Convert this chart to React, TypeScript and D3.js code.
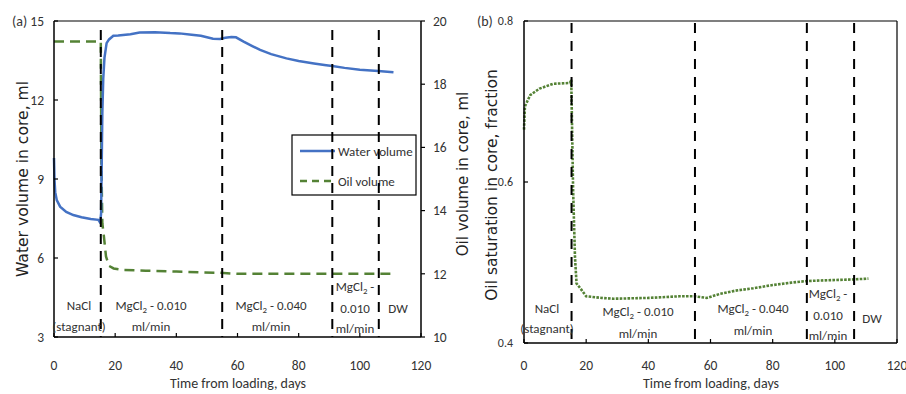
import React from 'react';
import * as d3 from 'd3';

// ---------- data ----------
const stageDays = [15.3, 55, 91, 106.2];
const xTicks = [0, 20, 40, 60, 80, 100, 120];
const waterTicks = [3, 6, 9, 12, 15];
const oilTicks = [10, 12, 14, 16, 18, 20];
const satTicks = [0.4, 0.6, 0.8];

const waterDays = [0, 0.15, 0.4, 0.9, 2, 4, 6.3, 9, 12, 14.5, 14.9, 15.2, 15.4, 15.6, 15.8, 16.1, 16.5, 17.2, 18, 19.4, 21, 25, 28, 33, 38, 41, 45, 48, 52, 54.3, 56, 58, 59.5, 62, 65, 67.4, 71, 76, 80, 85, 89, 91, 95, 100, 106, 111];
const waterVol = [9.8, 9.0, 8.5, 8.2, 7.95, 7.75, 7.63, 7.55, 7.48, 7.45, 7.38, 7.45, 7.7, 9.5, 11.5, 12.8, 13.6, 14.16, 14.3, 14.44, 14.45, 14.5, 14.56, 14.57, 14.54, 14.53, 14.48, 14.44, 14.33, 14.32, 14.36, 14.39, 14.38, 14.22, 14.04, 13.9, 13.74, 13.58, 13.48, 13.39, 13.32, 13.29, 13.22, 13.15, 13.1, 13.05];

const oilDays = [0, 15.3, 15.5, 15.8, 16.3, 17.0, 18, 19.5, 23, 30, 40, 54.3, 60, 110];
const oilVol = [19.35, 19.35, 15.5, 13.6, 13.2, 12.55, 12.25, 12.17, 12.12, 12.1, 12.07, 12.03, 12.0, 12.0];

const satDays = [0, 0.3, 2, 5, 9.4, 14.8, 15.2, 15.5, 15.8, 16.4, 16.9, 18.5, 20, 25, 28.7, 40, 50, 55, 58.8, 63, 68, 73.8, 80, 86, 91, 98, 106, 110.8];
const satVal = [0.665, 0.694, 0.708, 0.716, 0.722, 0.723, 0.727, 0.66, 0.59, 0.507, 0.474, 0.466, 0.458, 0.456, 0.455, 0.456, 0.458, 0.458, 0.456, 0.461, 0.465, 0.468, 0.472, 0.475, 0.477, 0.478, 0.479, 0.48];

const legendLabels = ['Water volume', 'Oil volume'];

// ---------- style ----------
const FONT = "Carlito, 'Liberation Sans Narrow', 'Arial Narrow', sans-serif";
const TFONT = "'DejaVu Sans', Verdana, sans-serif";
const BLUE = '#4472C4';
const GREEN = '#548235';

const xA = d3.scaleLinear().domain([0, 120]).range([54, 421]);
const yW = d3.scaleLinear().domain([3, 15]).range([337, 21]);
const yO = d3.scaleLinear().domain([10, 20]).range([337, 21]);
const xB = d3.scaleLinear().domain([0, 120]).range([524, 897]);
const yS = d3.scaleLinear().domain([0.4, 0.8]).range([343, 21]);

const waterPts: [number, number][] = waterDays.map((d, i) => [d, waterVol[i]]);
const oilPts: [number, number][] = oilDays.map((d, i) => [d, oilVol[i]]);
const satPts: [number, number][] = satDays.map((d, i) => [d, satVal[i]]);

const waterLine = d3.line<[number, number]>().x(d => xA(d[0])).y(d => yW(d[1]));
const oilLine = d3.line<[number, number]>().x(d => xA(d[0])).y(d => yO(d[1]));
const satLine = d3.line<[number, number]>().x(d => xB(d[0])).y(d => yS(d[1]));

function Mg({ x, y, rest, size = 13 }: { x: number; y: number; rest: string; size?: number }) {
  return (
    <text x={x} y={y} textAnchor="middle" fontFamily={FONT} fontSize={size} fill="#333">
      <tspan>MgCl</tspan>
      <tspan fontSize={size * 0.68} dy={3}>2</tspan>
      <tspan dy={-3}>{rest}</tspan>
    </text>
  );
}

function T({ x, y, s, size = 13 }: { x: number; y: number; s: string; size?: number }) {
  return (
    <text x={x} y={y} textAnchor="middle" fontFamily={FONT} fontSize={size} fill="#333">{s}</text>
  );
}

export default function App() {
  return (
    <svg width={906} height={394} style={{ position: 'absolute', left: 0, top: 0, background: '#fff' }}>
      <rect x={0} y={0} width={906} height={394} fill="#fff" />
      {/* ================= Panel (a) ================= */}
      <g>
        {/* legend (behind dashed lines) */}
        <rect x={292} y={135} width={124} height={60} fill="none" stroke="#000" strokeWidth={1.2} />
        <line x1={300} x2={335} y1={151} y2={151} stroke={BLUE} strokeWidth={2.5} />
        <text x={338} y={155.5} fontFamily={FONT} fontSize={13} fill="#333">{legendLabels[0]}</text>
        <line x1={300} x2={335} y1={181} y2={181} stroke={GREEN} strokeWidth={2.5} strokeDasharray="7,5" />
        <text x={338} y={185.5} fontFamily={FONT} fontSize={13} fill="#333">{legendLabels[1]}</text>

        {/* data */}
        <path d={oilLine(oilPts) || ''} fill="none" stroke={GREEN} strokeWidth={2.5} strokeDasharray="10,6" />
        <path d={waterLine(waterPts) || ''} fill="none" stroke={BLUE} strokeWidth={2.5} />

        {/* stage lines */}
        {stageDays.map((d, i) => (
          <line key={i} x1={xA(d)} x2={xA(d)} y1={30} y2={337} stroke="#000" strokeWidth={2} strokeDasharray="10,7" />
        ))}

        {/* frame */}
        <line x1={54} x2={421} y1={21} y2={21} stroke="#000" strokeWidth={1.2} />
        <line x1={54} x2={54} y1={21} y2={337} stroke="#000" strokeWidth={1.5} />
        <line x1={421} x2={421} y1={21} y2={337} stroke="#000" strokeWidth={1.5} />
        <line x1={54} x2={421} y1={337} y2={337} stroke="#000" strokeWidth={1.5} />

        {/* x ticks */}
        {xTicks.map(t => (
          <g key={t}>
            <line x1={xA(t)} x2={xA(t)} y1={337} y2={333} stroke="#000" strokeWidth={1.2} />
            <text x={xA(t)} y={369.5} textAnchor="middle" fontFamily={FONT} fontSize={13.5} fill="#333">{t}</text>
          </g>
        ))}
        {/* left ticks */}
        {waterTicks.map(t => (
          <g key={t}>
            <line x1={54} x2={58} y1={yW(t)} y2={yW(t)} stroke="#000" strokeWidth={1.2} />
            <text x={44} y={yW(t) + 4.8} textAnchor="end" fontFamily={FONT} fontSize={13.5} fill="#333">{t}</text>
          </g>
        ))}
        {/* right ticks */}
        {oilTicks.map(t => (
          <g key={t}>
            <line x1={421} x2={425} y1={yO(t)} y2={yO(t)} stroke="#000" strokeWidth={1.2} />
            <text x={433} y={yO(t) + 4.8} textAnchor="start" fontFamily={FONT} fontSize={13.5} fill="#333">{t}</text>
          </g>
        ))}

        <text x={12} y={26} fontFamily={FONT} fontSize={14} fill="#333">(a)</text>

        {/* titles */}
        <text x={238} y={388} textAnchor="middle" fontFamily={FONT} fontSize={14} fill="#333">Time from loading, days</text>
        <text transform="translate(28,179) rotate(-90)" textAnchor="middle" fontFamily={TFONT} fontSize={15.6} fill="#222">Water volume in core, ml</text>
        <text transform="translate(468,174) rotate(-90)" textAnchor="middle" fontFamily={TFONT} fontSize={15} fill="#222">Oil volume in core, ml</text>

        {/* stage annotations */}
        <T x={79} y={309.5} s="NaCl" />
        <T x={79} y={331} s="(stagnant)" />
        <Mg x={151} y={309.5} rest=" - 0.010" />
        <T x={151} y={331} s="ml/min" />
        <Mg x={271} y={309.5} rest=" - 0.040" />
        <T x={271} y={331} s="ml/min" />
        <Mg x={355} y={291} rest=" -" />
        <T x={355} y={312.5} s="0.010" />
        <T x={355} y={332.5} s="ml/min" />
        <T x={398} y={312.5} s="DW" />
      </g>

      {/* ================= Panel (b) ================= */}
      <g>
        <path d={satLine(satPts) || ''} fill="none" stroke={GREEN} strokeWidth={2.6} strokeDasharray="2.6,1.3" />

        {stageDays.map((d, i) => (
          <line key={i} x1={xB(d)} x2={xB(d)} y1={23} y2={343} stroke="#000" strokeWidth={2} strokeDasharray="10,8" />
        ))}

        <line x1={524} x2={897} y1={21} y2={21} stroke="#000" strokeWidth={1.2} />
        <line x1={524} x2={524} y1={21} y2={343} stroke="#000" strokeWidth={1.5} />
        <line x1={897} x2={897} y1={21} y2={343} stroke="#000" strokeWidth={1.2} />
        <line x1={524} x2={897} y1={343} y2={343} stroke="#000" strokeWidth={1.5} />

        {xTicks.map(t => (
          <g key={t}>
            <line x1={xB(t)} x2={xB(t)} y1={343} y2={339} stroke="#000" strokeWidth={1.2} />
            <text x={xB(t)} y={369.5} textAnchor="middle" fontFamily={FONT} fontSize={13.5} fill="#333">{t}</text>
          </g>
        ))}
        {satTicks.map(t => (
          <g key={t}>
            <line x1={524} x2={528} y1={yS(t)} y2={yS(t)} stroke="#000" strokeWidth={1.2} />
            <text x={513} y={yS(t) + 4.3} textAnchor="end" fontFamily={FONT} fontSize={12} fill="#333">{t.toFixed(1)}</text>
          </g>
        ))}

        <text x={477} y={26} fontFamily={FONT} fontSize={14} fill="#333">(b)</text>

        <text x={711} y={388} textAnchor="middle" fontFamily={FONT} fontSize={14} fill="#333">Time from loading, days</text>
        <text transform="translate(496.5,185) rotate(-90)" textAnchor="middle" fontFamily={TFONT} fontSize={15.5} fill="#222">Oil saturation in core, fraction</text>

        <T x={547} y={312.5} s="NaCl" />
        <T x={547} y={332.5} s="(stagnant)" />
        <Mg x={638} y={316} rest=" - 0.010" />
        <T x={638} y={337.5} s="ml/min" />
        <Mg x={753} y={312.5} rest=" - 0.040" />
        <T x={753} y={334.5} s="ml/min" />
        <Mg x={828} y={297.5} rest=" -" />
        <T x={828} y={319.5} s="0.010" />
        <T x={828} y={339.5} s="ml/min" />
        <T x={872} y={322.5} s="DW" />
      </g>
    </svg>
  );
}
